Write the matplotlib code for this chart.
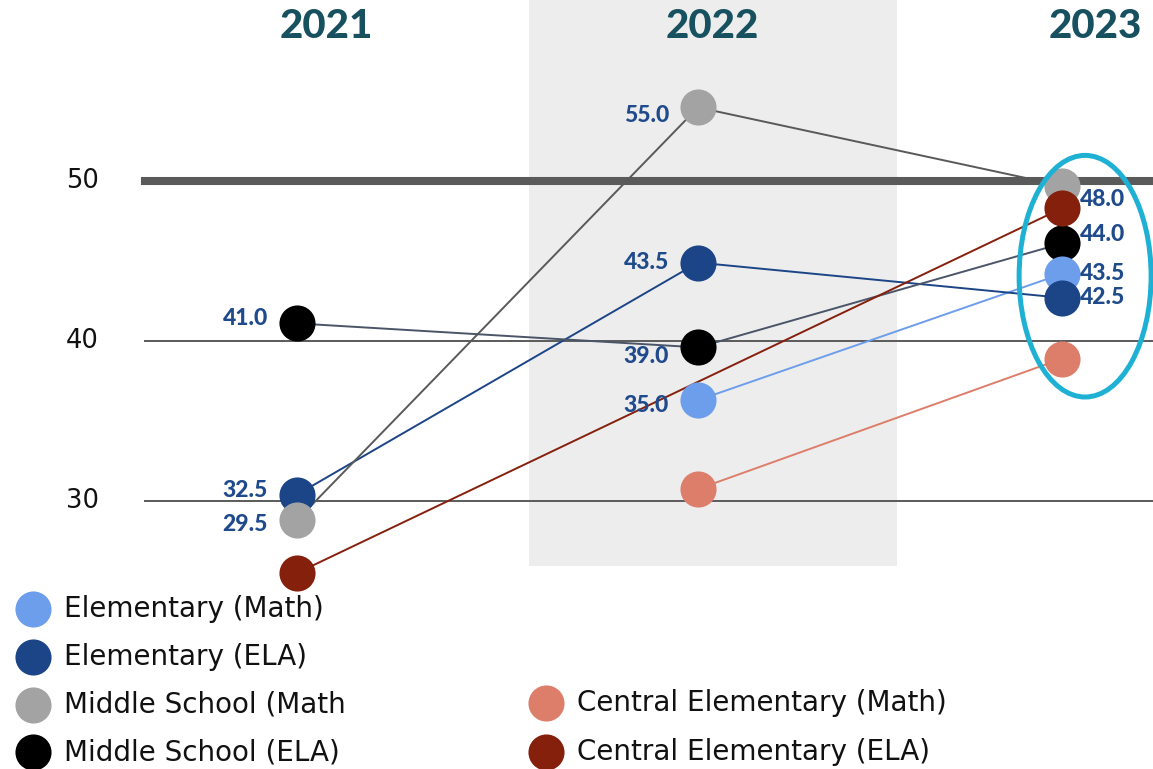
import matplotlib.pyplot as plt
from matplotlib.patches import Ellipse, Rectangle

# Chart data
years = ["2021", "2022", "2023"]
series = ["Elementary (Math)", "Elementary (ELA)", "Middle School (Math",
          "Middle School (ELA)", "Central Elementary (Math)", "Central Elementary (ELA)"]
elem_math = [None, 36.3, 44.2]
elem_ela = [30.4, 44.9, 42.7]
ms_math = [28.8, 54.6, 49.7]
ms_ela = [41.1, 39.6, 46.1]
central_math = [None, 30.75, 38.9]
central_ela = [25.5, None, 48.3]

# data labels shown next to markers
elem_math_lbl = [None, "35.0", "43.5"]
elem_ela_lbl = ["32.5", "43.5", "42.5"]
ms_math_lbl = ["29.5", "55.0", "48.0"]
ms_ela_lbl = ["41.0", "39.0", "44.0"]

values = [elem_math, elem_ela, ms_math, ms_ela, central_math, central_ela]
labels = [elem_math_lbl, elem_ela_lbl, ms_math_lbl, ms_ela_lbl, None, None]
marker_colors = ["#6d9eeb", "#1c4587", "#a3a3a3", "#000000", "#dd7e6b", "#85200c"]
line_colors = ["#6d9eeb", "#1c4587", "#595959", "#4a5568", "#dd7e6b", "#85200c"]
zorders = [5, 6, 7, 4, 5, 8]
# small vertical nudges (pixels) for the value labels
label_dy = {(0, 1): -5, (0, 2): 0, (1, 0): 4, (1, 1): 0, (1, 2): 0,
            (2, 0): -4, (2, 1): -8, (2, 2): -14, (3, 0): 5, (3, 1): -9, (3, 2): 9}

# layout
W, H = 1153, 769
year_pos = [0, 1, 1.908]

plt.rcParams['font.family'] = ['Lato', 'DejaVu Sans']
fig = plt.figure(figsize=(W / 100, H / 100), dpi=100)
ax = fig.add_axes([0, 0, 1, 1])
ax.axis('off')
ax.set_xlim(-297 / 401, 856 / 401)
ax.set_ylim(50 - 588 / 16, 50 + 181 / 16)

# shaded 2022 band
ax.add_patch(Rectangle((529 / W, 1 - 566 / H), (897 - 529) / W, 566 / H,
                       transform=ax.transAxes, color="#ededed", zorder=0, lw=0))

# gridlines and y labels
for yv in [30, 40, 50]:
    ax.axhline(yv, xmin=145 / W, xmax=1, color="#5a5a5a",
               lw=5.8 if yv == 50 else 1.4, zorder=1)
    ax.text(82 / W, yv, str(yv), transform=ax.get_yaxis_transform(),
            ha="center", va="center", fontsize=18.5, color="#111111",
            family="DejaVu Sans")

# year headers
for yr, px in zip(years, [326, 712, 1095]):
    ax.text(px / W, 1 - 27 / H, yr, transform=ax.transAxes, ha="center", va="center",
            fontsize=29, fontweight="black", color="#17505e")

# lines + markers
for i in range(len(series)):
    pts = [(year_pos[j], v) for j, v in enumerate(values[i]) if v is not None]
    xs = [p[0] for p in pts]
    ys = [p[1] for p in pts]
    ax.plot(xs, ys, color=line_colors[i], lw=1.4, zorder=2)
    ax.plot(xs, ys, "o", ms=26, color=marker_colors[i], mec="none", zorder=zorders[i])
    if labels[i] is None:
        continue
    for j, lbl in enumerate(labels[i]):
        if lbl is None:
            continue
        dy = label_dy.get((i, j), 0) * 0.72
        if j < 2:
            ax.annotate(lbl, (year_pos[j], values[i][j]), xytext=(-21, dy),
                        textcoords="offset points", ha="right", va="center",
                        fontsize=16.5, fontweight="black", color="#1f4a8c", zorder=10)
        else:
            ax.annotate(lbl, (year_pos[j], values[i][j]), xytext=(13, dy),
                        textcoords="offset points", ha="left", va="center",
                        fontsize=16.5, fontweight="black", color="#1f4a8c", zorder=10)

# highlight ellipse around 2023
v2023 = [v[2] for v in values]
ax.add_patch(Ellipse((year_pos[2] + 23 / 401, (max(v2023) + min(v2023)) / 2 - 0.25),
                     132 / 401, max(v2023) - min(v2023) + 4.3,
                     fill=False, ec="#1fb1d3", lw=3.6, zorder=12))

# legend
legend_px = [(33, 609), (33, 657), (33, 705), (33, 752), (546, 703), (546, 752)]
for i, name in enumerate(series):
    lx, ly = legend_px[i]
    ax.plot(lx / W, 1 - ly / H, "o", ms=26, color=marker_colors[i], mec="none",
            transform=ax.transAxes, clip_on=False)
    ax.text((lx + 31) / W, 1 - ly / H, name, transform=ax.transAxes,
            ha="left", va="center", fontsize=20, color="#111111",
            family="DejaVu Sans")

fig.savefig("out.png", dpi=100)
